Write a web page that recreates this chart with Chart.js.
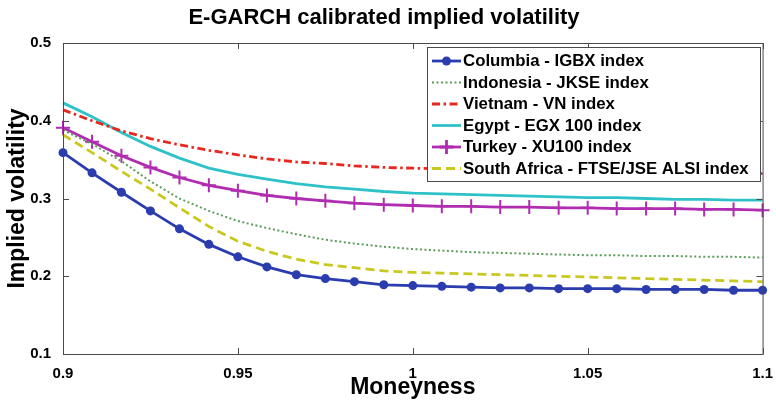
<!DOCTYPE html>
<html>
<head>
<meta charset="UTF-8">
<title>egarch.html</title>
<style>
body{
	margin: 0;
	background-color: white;
}
#myChart{
	display: block;
}
</style>
</head>
<body>
<canvas id="myChart" width="776" height="406"></canvas>
</body>
<script src="https://cdn.jsdelivr.net/npm/chart.js@4.4.0/dist/chart.umd.min.js"></script>
<script>
// moneyness (x)
const moneyness = [0.9, 0.9083, 0.9167, 0.925, 0.9333, 0.9417, 0.95, 0.9583, 0.9667, 0.975, 0.9833, 0.9917, 1.0,
	1.0083, 1.0167, 1.025, 1.0333, 1.0417, 1.05, 1.0583, 1.0667, 1.075, 1.0833, 1.0917, 1.1];

// implied volatility per index
const columbia = [0.359,0.333,0.308,0.284,0.261,0.241,0.225,0.212,0.202,0.197,0.193,0.189,0.188,0.187,0.186,0.185,0.185,0.184,0.184,0.184,0.183,0.183,0.183,0.182,0.182];
const indonesia = [0.388,0.370,0.348,0.322,0.300,0.284,0.271,0.262,0.254,0.247,0.242,0.238,0.235,0.233,0.231,0.230,0.229,0.228,0.227,0.227,0.226,0.226,0.225,0.225,0.224];
const vietnam = [0.414,0.400,0.387,0.377,0.369,0.362,0.356,0.351,0.347,0.345,0.342,0.340,0.339,0.338,0.338,0.337,0.337,0.336,0.336,0.335,0.335,0.334,0.334,0.333,0.332];
const egypt = [0.423,0.405,0.385,0.367,0.352,0.339,0.331,0.325,0.319,0.315,0.312,0.309,0.307,0.306,0.305,0.304,0.303,0.302,0.301,0.301,0.300,0.299,0.299,0.298,0.298];
const turkey = [0.391,0.373,0.355,0.340,0.327,0.317,0.310,0.304,0.300,0.297,0.294,0.292,0.291,0.290,0.290,0.289,0.289,0.288,0.288,0.287,0.287,0.287,0.286,0.286,0.285];
const southAfrica = [0.382,0.359,0.335,0.312,0.288,0.264,0.245,0.232,0.222,0.215,0.211,0.207,0.205,0.204,0.203,0.202,0.201,0.200,0.199,0.198,0.197,0.196,0.195,0.194,0.193];

const seriesNames = ['Columbia - IGBX index','Indonesia - JKSE index','Vietnam - VN index','Egypt - EGX 100 index','Turkey - XU100 index','South Africa - FTSE/JSE ALSI index'];

// axis ticks
const xTicks = [0.9, 0.95, 1, 1.05, 1.1];
const yTicks = [0.1, 0.2, 0.3, 0.4, 0.5];

const FONT = '"Liberation Sans", Arial, Helvetica, sans-serif';

function pts(arr){
	return moneyness.map((m,i) => ({x:m, y:arr[i]}));
}

// box, inward ticks, title and legend (matlab style)
const framePlugin = {
	id:'frame',
	afterDraw(chart){
		const ctx = chart.ctx;
		const a = chart.chartArea;
		const xs = chart.scales.x, ys = chart.scales.y;
		ctx.save();
		ctx.strokeStyle = '#4a4a4a';
		ctx.lineWidth = 1;
		ctx.strokeRect(a.left+0.5, a.top+0.5, a.right-a.left, a.bottom-a.top);
		ctx.beginPath();
		xTicks.forEach(v => {
			const px = Math.round(xs.getPixelForValue(v))+0.5;
			ctx.moveTo(px, a.bottom); ctx.lineTo(px, a.bottom-6);
			ctx.moveTo(px, a.top); ctx.lineTo(px, a.top+6);
		});
		yTicks.forEach(v => {
			const py = Math.round(ys.getPixelForValue(v))+0.5;
			ctx.moveTo(a.left, py); ctx.lineTo(a.left+6, py);
			ctx.moveTo(a.right, py); ctx.lineTo(a.right-6, py);
		});
		ctx.stroke();

		// title
		ctx.fillStyle = '#000';
		ctx.font = 'bold 22px ' + FONT;
		ctx.textAlign = 'center';
		ctx.textBaseline = 'middle';
		ctx.fillText('E-GARCH calibrated implied volatility', 384, 18);

		// legend
		const lx = 427, ly = 47, lw = 333, lh = 134;
		ctx.fillStyle = 'white';
		ctx.fillRect(lx, ly, lw, lh);
		ctx.strokeStyle = '#4a4a4a';
		ctx.strokeRect(lx+0.5, ly+0.5, lw, lh);
		chart.data.datasets.forEach((ds,i) => {
			const y = 61 + i*21.5;
			ctx.save();
			ctx.strokeStyle = ds.borderColor;
			ctx.lineWidth = ds.borderWidth;
			ctx.setLineDash(ds.borderDash || []);
			ctx.beginPath();
			ctx.moveTo(432, y); ctx.lineTo(461, y);
			ctx.stroke();
			ctx.setLineDash([]);
			if(ds.pointStyle=='circle'){
				ctx.fillStyle = ds.borderColor;
				ctx.beginPath();
				ctx.arc(446.5, y, ds.pointRadius, 0, Math.PI*2);
				ctx.fill();
			}else if(ds.pointStyle=='cross'){
				ctx.beginPath();
				ctx.moveTo(446.5, y-ds.pointRadius); ctx.lineTo(446.5, y+ds.pointRadius);
				ctx.moveTo(446.5-ds.pointRadius, y); ctx.lineTo(446.5+ds.pointRadius, y);
				ctx.stroke();
			}
			ctx.fillStyle = '#000';
			ctx.font = 'bold 16px ' + FONT;
			ctx.textAlign = 'left';
			ctx.textBaseline = 'middle';
			ctx.translate(463, y+1);
			ctx.scale(1.05, 1);
			ctx.fillText(ds.label, 0, 0);
			ctx.restore();
		});
		ctx.restore();
	}
};

const ctx = document.getElementById('myChart').getContext('2d');
const chart = new Chart(ctx,{
	type:'line',
	data:{
		datasets:[{
			label:seriesNames[0], data:pts(columbia),
			borderColor:'#2b3cae', backgroundColor:'#2b3cae', borderWidth:2.8,
			pointStyle:'circle', pointRadius:4.5, pointBorderWidth:0
		},{
			label:seriesNames[1], data:pts(indonesia),
			borderColor:'#5a9e5a', borderWidth:2, borderDash:[2,2.5], pointRadius:0
		},{
			label:seriesNames[2], data:pts(vietnam),
			borderColor:'#e8281e', borderWidth:2.8, borderDash:[8,3.5,2.5,3.5], pointRadius:0
		},{
			label:seriesNames[3], data:pts(egypt),
			borderColor:'#2ec2c8', borderWidth:2.8, pointRadius:0
		},{
			label:seriesNames[4], data:pts(turkey),
			borderColor:'#b02cb0', backgroundColor:'#b02cb0', borderWidth:2.8,
			pointStyle:'cross', pointRadius:7, pointBorderWidth:2
		},{
			label:seriesNames[5], data:pts(southAfrica),
			borderColor:'#c8c81e', borderWidth:2.8, borderDash:[9,5], pointRadius:0
		}]
	},
	options:{
		responsive:false,
		devicePixelRatio:1,
		animation:false,
		clip:false,
		layout:{padding:{top:43, right:13, left:0, bottom:0}},
		plugins:{legend:{display:false}, title:{display:false}, tooltip:{enabled:false}},
		scales:{
			x:{
				type:'linear', min:0.9, max:1.1,
				afterFit(s){ s.height = 52; },
				afterBuildTicks(s){ s.ticks = xTicks.map(v => ({value:v})); },
				grid:{display:false}, border:{display:false},
				ticks:{color:'#000', font:{family:FONT, size:15, weight:'bold'}, padding:3, maxRotation:0,
					callback:v => String(Math.round(v*100)/100)},
				title:{display:true, text:'Moneyness', color:'#000', font:{family:FONT, size:23, weight:'bold'}, padding:{top:0,bottom:5}}
			},
			y:{
				min:0.1, max:0.5,
				afterFit(s){ s.width = 63; },
				afterBuildTicks(s){ s.ticks = yTicks.map(v => ({value:v})); },
				grid:{display:false}, border:{display:false},
				ticks:{color:'#000', font:{family:FONT, size:15, weight:'bold'}, padding:4,
					callback:v => String(Math.round(v*10)/10)},
				title:{display:true, text:'Implied volatility', color:'#000', font:{family:FONT, size:23, weight:'bold'}, padding:{top:4,bottom:0}}
			}
		}
	},
	plugins:[framePlugin]
});
</script>
</html>
